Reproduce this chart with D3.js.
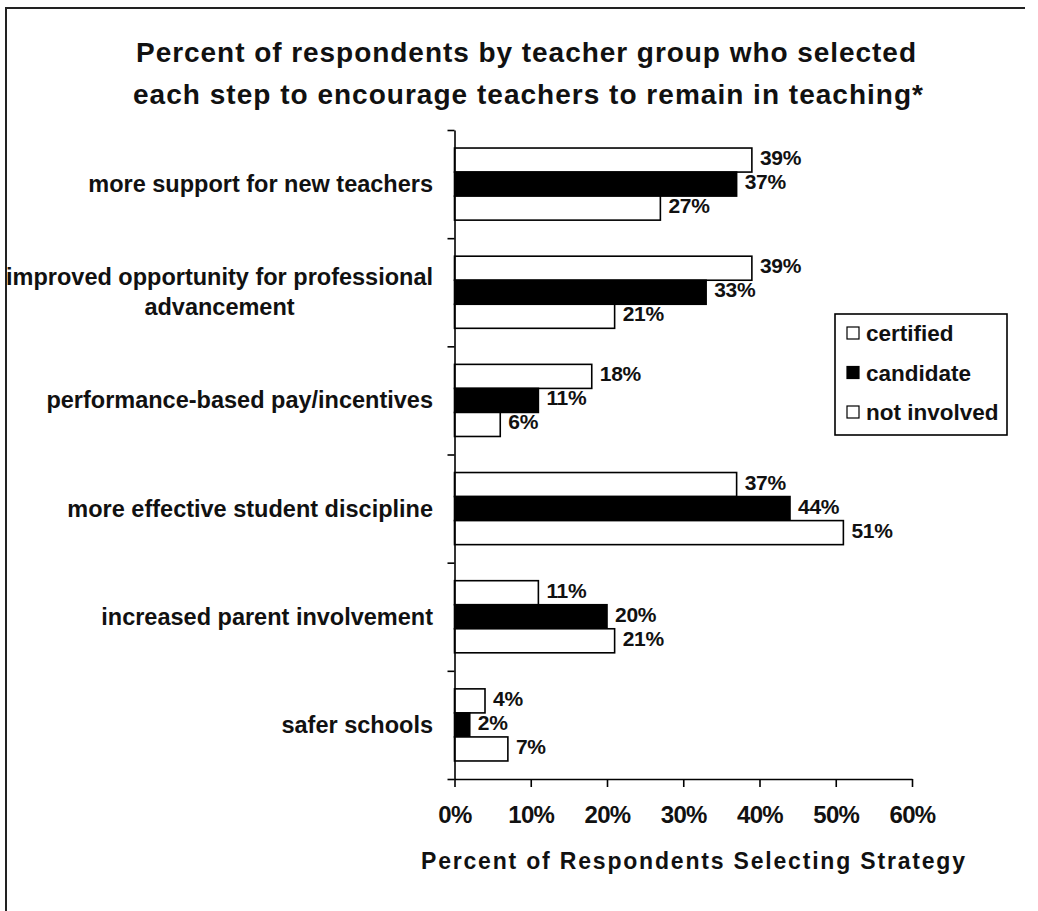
<!DOCTYPE html>
<html>
<head>
<meta charset="utf-8">
<script src="https://cdn.jsdelivr.net/npm/d3@7"></script>
<style>
  html, body { margin: 0; padding: 0; background: #fff; }
  svg { display: block; }
  text { font-family: "Liberation Sans", Arial, sans-serif; font-weight: bold; fill: #111; }
</style>
</head>
<body>
<svg id="chart" width="1038" height="911"></svg>
<script>
// Survey strategies (a "\n" marks where a long label wraps)
const categories = [
  "more support for new teachers",
  "improved opportunity for professional\nadvancement",
  "performance-based pay/incentives",
  "more effective student discipline",
  "increased parent involvement",
  "safer schools"
];
const seriesNames = ["certified", "candidate", "not involved"];
const certified   = [39, 39, 18, 37, 11, 4];
const candidate   = [37, 33, 11, 44, 20, 2];
const notInvolved = [27, 21, 6, 51, 21, 7];
const xTicks = [0, 10, 20, 30, 40, 50, 60];
const titleLines = [
  "Percent of respondents by teacher group who selected",
  "each step to encourage teachers to remain in teaching*"
];
const xTitle = "Percent of Respondents Selecting Strategy";

const seriesValues = [certified, candidate, notInvolved];
const seriesFill = ["#fff", "#000", "#fff"];

const svg = d3.select("#chart");

// outer frame (top and left edges)
svg.append("path")
  .attr("d", "M6,911V8H1025")
  .attr("fill", "none")
  .attr("stroke", "#222")
  .attr("stroke-width", 2);

// title
svg.append("g").selectAll("text").data(titleLines).join("text")
  .attr("x", (d, i) => i === 0 ? 526 : 528)
  .attr("y", (d, i) => 62 + i * 42)
  .attr("text-anchor", "middle")
  .attr("font-size", 28)
  .attr("textLength", (d, i) => i === 0 ? 780 : 790)
  .attr("lengthAdjust", "spacing")
  .text(d => d);

// scales
const x = d3.scaleLinear().domain([0, 60]).range([454.5, 912]);
const yTop = 130, yBottom = 779;
const y = d3.scaleBand().domain(d3.range(categories.length)).range([yTop, yBottom])
  .paddingInner(1 / 3).paddingOuter(1 / 6);
const ySub = d3.scaleBand().domain(d3.range(seriesNames.length)).range([0, y.bandwidth()]);
const yEdges = d3.scaleLinear().domain([0, categories.length]).range([yTop, yBottom]);

// bars
const groups = svg.append("g").selectAll("g").data(categories).join("g")
  .attr("transform", (d, i) => `translate(0,${y(i)})`);

const rowsOf = ci => seriesNames.map((s, si) => ({ si, v: seriesValues[si][ci] }));

groups.each(function (cat, ci) {
  d3.select(this).selectAll("rect").data(rowsOf(ci)).join("rect")
    .attr("x", x(0))
    .attr("y", d => ySub(d.si))
    .attr("width", d => x(d.v) - x(0))
    .attr("height", ySub.bandwidth())
    .attr("fill", d => seriesFill[d.si])
    .attr("stroke", "#000")
    .attr("stroke-width", 1.6);
});

// value labels (drawn after all bars so they sit on top)
groups.each(function (cat, ci) {
  d3.select(this).selectAll("text.val").data(rowsOf(ci)).join("text")
    .attr("class", "val")
    .attr("x", d => x(d.v) + 8)
    .attr("y", d => ySub(d.si) + ySub.bandwidth() / 2 + 5)
    .attr("font-size", 21)
    .attr("letter-spacing", -0.3)
    .text(d => d.v + "%");
});

// y axis with ticks at category boundaries
svg.append("g")
  .attr("transform", `translate(${x(0)},0)`)
  .call(d3.axisLeft(yEdges).tickValues(d3.range(categories.length + 1)).tickFormat("").tickSize(7).tickSizeOuter(0))
  .call(g => g.selectAll("line, path").attr("stroke", "#000").attr("stroke-width", 1.6));

// x axis
svg.append("g")
  .attr("transform", `translate(0,${yBottom})`)
  .call(d3.axisBottom(x).tickValues(xTicks).tickFormat(d => d + "%").tickSize(8).tickSizeOuter(0).tickPadding(19))
  .call(g => g.selectAll("line, path").attr("stroke", "#000").attr("stroke-width", 1.6))
  .call(g => g.selectAll("text")
    .attr("font-size", 24)
    .attr("letter-spacing", -0.7)
    .attr("fill", "#111")
    .style("font-family", "'Liberation Sans', Arial, sans-serif")
    .style("font-weight", "bold"));

// x axis title
svg.append("text")
  .attr("x", 693)
  .attr("y", 869)
  .attr("text-anchor", "middle")
  .attr("font-size", 23)
  .attr("textLength", 544)
  .attr("lengthAdjust", "spacing")
  .text(xTitle);

// category labels: right-aligned block, wrapped lines centred on each other
const labelRight = 433;
categories.forEach((cat, ci) => {
  const lines = cat.split("\n");
  const cy = y(ci) + y.bandwidth() / 2;
  const texts = svg.append("g").selectAll("text").data(lines).join("text")
    .attr("font-size", 23.5)
    .attr("y", (d, i) => cy + 8 + (i - (lines.length - 1) / 2) * 30)
    .text(d => d);
  const widths = [];
  texts.each(function () { widths.push(this.getComputedTextLength()); });
  const maxW = d3.max(widths);
  texts.attr("text-anchor", "middle").attr("x", labelRight - maxW / 2);
});

// legend
const legend = svg.append("g");
legend.append("rect")
  .attr("x", 835).attr("y", 314).attr("width", 172).attr("height", 121)
  .attr("fill", "#fff").attr("stroke", "#000").attr("stroke-width", 1.6);
const legendY = d3.scalePoint().domain(seriesNames).range([333, 412]);
const items = legend.selectAll("g.item").data(seriesNames).join("g")
  .attr("class", "item")
  .attr("transform", d => `translate(0,${legendY(d)})`);
items.append("rect")
  .attr("x", 847).attr("y", -6).attr("width", 12).attr("height", 12)
  .attr("fill", (d, i) => seriesFill[i])
  .attr("stroke", "#000").attr("stroke-width", 1.2);
items.append("text")
  .attr("x", 866).attr("y", 8)
  .attr("font-size", 22.5)
  .text(d => d);
</script>
</body>
</html>
